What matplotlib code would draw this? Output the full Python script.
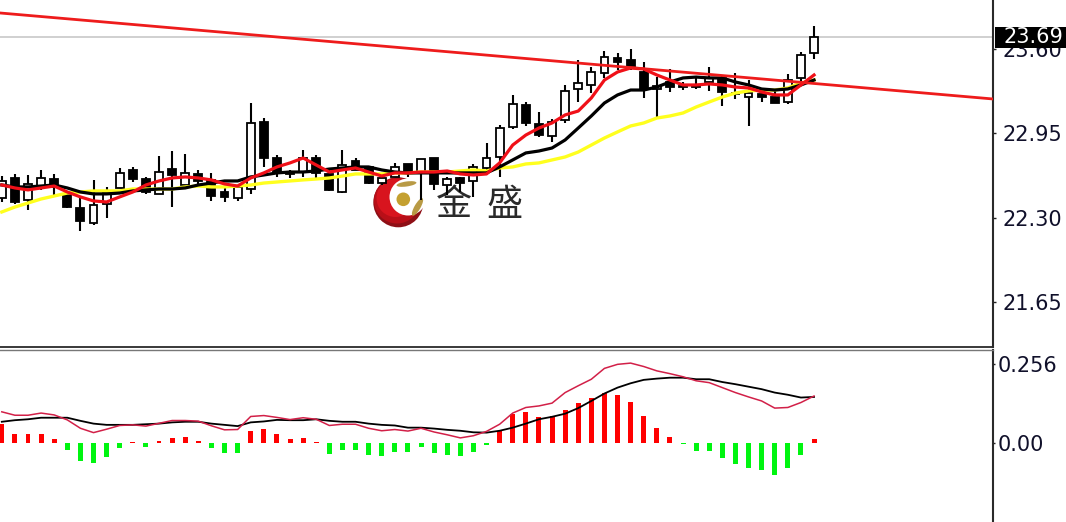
import numpy as np
import matplotlib
matplotlib.use("Agg")
import matplotlib.pyplot as plt
from matplotlib.patches import Circle, Ellipse, Rectangle

plt.rcParams['font.family'] = ['DejaVu Sans']

opens = [22.452, 22.606, 22.436, 22.537, 22.598, 22.475, 22.375, 22.259, 22.406, 22.529, 22.668, 22.598, 22.483,
         22.675, 22.552, 22.637, 22.591, 22.498, 22.452, 22.521, 23.038, 22.760, 22.652, 22.652, 22.760, 22.637,
         22.498, 22.737, 22.691, 22.567, 22.614, 22.714, 22.652, 22.760, 22.552, 22.606, 22.583, 22.683, 22.768,
         22.999, 23.169, 23.022, 22.930, 23.053, 23.292, 23.323, 23.415, 23.531, 23.516, 23.423, 23.292, 23.346,
         23.315, 23.307, 23.346, 23.377, 23.253, 23.230, 23.253, 23.230, 23.192, 23.377, 23.569]
closes = [22.583, 22.421, 22.560, 22.606, 22.537, 22.382, 22.274, 22.398, 22.498, 22.645, 22.598, 22.498, 22.652,
          22.629, 22.645, 22.583, 22.467, 22.460, 22.537, 23.030, 22.760, 22.652, 22.637, 22.760, 22.645, 22.514,
          22.706, 22.668, 22.567, 22.606, 22.691, 22.645, 22.752, 22.560, 22.598, 22.567, 22.691, 22.760, 22.991,
          23.176, 23.030, 22.937, 23.038, 23.277, 23.338, 23.423, 23.539, 23.500, 23.462, 23.292, 23.315, 23.307,
          23.307, 23.315, 23.377, 23.269, 23.261, 23.261, 23.230, 23.184, 23.361, 23.554, 23.693]
highs = [22.621, 22.637, 22.629, 22.668, 22.637, 22.498, 22.460, 22.591, 22.537, 22.683, 22.691, 22.614, 22.776,
         22.814, 22.791, 22.668, 22.645, 22.537, 22.537, 23.184, 23.068, 22.783, 22.668, 22.822, 22.783, 22.683,
         22.822, 22.760, 22.691, 22.645, 22.722, 22.714, 22.752, 22.760, 22.614, 22.614, 22.714, 22.876, 23.014,
         23.246, 23.192, 23.115, 23.061, 23.323, 23.516, 23.462, 23.585, 23.569, 23.600, 23.500, 23.384, 23.446,
         23.346, 23.377, 23.462, 23.400, 23.415, 23.361, 23.300, 23.284, 23.408, 23.577, 23.778]
lows = [22.421, 22.406, 22.359, 22.514, 22.475, 22.375, 22.197, 22.244, 22.298, 22.529, 22.575, 22.483, 22.483,
        22.382, 22.537, 22.537, 22.429, 22.421, 22.429, 22.483, 22.691, 22.614, 22.606, 22.614, 22.606, 22.506,
        22.490, 22.668, 22.560, 22.552, 22.614, 22.614, 22.436, 22.514, 22.475, 22.498, 22.460, 22.668, 22.614,
        22.984, 23.007, 22.922, 22.883, 23.030, 23.192, 23.261, 23.377, 23.438, 23.438, 23.223, 23.061, 23.269,
        23.284, 23.292, 23.277, 23.161, 23.215, 23.007, 23.192, 23.184, 23.176, 23.338, 23.523]

ma_red = [22.552, 22.529, 22.514, 22.529, 22.544, 22.498, 22.460, 22.429, 22.421, 22.460, 22.498, 22.552, 22.583,
          22.606, 22.614, 22.606, 22.591, 22.560, 22.544, 22.606, 22.645, 22.691, 22.722, 22.760, 22.706, 22.652,
          22.668, 22.683, 22.652, 22.621, 22.645, 22.645, 22.652, 22.652, 22.660, 22.637, 22.629, 22.637, 22.722,
          22.860, 22.937, 22.991, 23.030, 23.092, 23.122, 23.223, 23.361, 23.423, 23.454, 23.446, 23.400, 23.361,
          23.323, 23.323, 23.331, 23.323, 23.307, 23.300, 23.269, 23.246, 23.246, 23.323, 23.400]
ma_black = [22.552, 22.537, 22.537, 22.544, 22.552, 22.529, 22.498, 22.483, 22.483, 22.490, 22.506, 22.514, 22.521,
            22.521, 22.529, 22.552, 22.567, 22.583, 22.583, 22.614, 22.629, 22.645, 22.652, 22.652, 22.660, 22.675,
            22.683, 22.691, 22.691, 22.668, 22.652, 22.645, 22.645, 22.645, 22.645, 22.645, 22.645, 22.645, 22.691,
            22.745, 22.799, 22.814, 22.837, 22.899, 22.991, 23.084, 23.184, 23.246, 23.284, 23.284, 23.307, 23.346,
            23.377, 23.384, 23.377, 23.377, 23.346, 23.323, 23.292, 23.284, 23.292, 23.323, 23.361]
ma_yellow = [22.344, 22.382, 22.413, 22.444, 22.467, 22.490, 22.498, 22.506, 22.506, 22.506, 22.521, 22.521, 22.521,
             22.521, 22.537, 22.544, 22.537, 22.537, 22.544, 22.552, 22.567, 22.575, 22.583, 22.591, 22.598, 22.606,
             22.621, 22.637, 22.637, 22.637, 22.645, 22.645, 22.652, 22.652, 22.652, 22.660, 22.668, 22.660, 22.683,
             22.691, 22.714, 22.722, 22.745, 22.768, 22.806, 22.860, 22.914, 22.961, 23.007, 23.030, 23.068, 23.084,
             23.107, 23.153, 23.192, 23.230, 23.261, 23.277, 23.284, 23.284, 23.300, 23.338, 23.361]

trend_idx = [-0.14, 75.66]
trend_price = [23.878, 23.215]
last_price = 23.69
price_ticks = [23.60, 22.95, 22.30, 21.65]

macd_hist = [0.061, 0.029, 0.029, 0.029, 0.013, -0.021, -0.059, -0.063, -0.046, -0.017, 0.005, -0.012, 0.008,
             0.016, 0.020, 0.008, -0.017, -0.033, -0.033, 0.040, 0.045, 0.028, 0.013, 0.016, 0.005, -0.034,
             -0.021, -0.021, -0.037, -0.042, -0.030, -0.030, -0.012, -0.033, -0.037, -0.042, -0.029, -0.006, 0.040,
             0.093, 0.100, 0.083, 0.086, 0.107, 0.129, 0.145, 0.161, 0.155, 0.132, 0.087, 0.049, 0.020,
             -0.003, -0.025, -0.025, -0.047, -0.068, -0.079, -0.088, -0.101, -0.079, -0.038, 0.012]
macd_signal = [0.069, 0.074, 0.077, 0.082, 0.082, 0.082, 0.072, 0.063, 0.059, 0.059, 0.059, 0.061, 0.063,
               0.067, 0.069, 0.069, 0.063, 0.059, 0.055, 0.067, 0.070, 0.075, 0.074, 0.074, 0.077, 0.072,
               0.069, 0.069, 0.063, 0.059, 0.057, 0.050, 0.050, 0.047, 0.043, 0.040, 0.035, 0.034, 0.040,
               0.050, 0.063, 0.077, 0.085, 0.095, 0.113, 0.136, 0.160, 0.179, 0.193, 0.204, 0.208, 0.211,
               0.211, 0.206, 0.206, 0.197, 0.190, 0.182, 0.174, 0.163, 0.156, 0.147, 0.149]
macd_line = [0.101, 0.090, 0.090, 0.097, 0.091, 0.075, 0.048, 0.034, 0.045, 0.057, 0.059, 0.055, 0.064,
             0.073, 0.073, 0.071, 0.056, 0.043, 0.044, 0.086, 0.089, 0.083, 0.076, 0.082, 0.077, 0.057,
             0.061, 0.061, 0.048, 0.040, 0.044, 0.039, 0.048, 0.036, 0.027, 0.017, 0.024, 0.038, 0.061,
             0.097, 0.115, 0.120, 0.129, 0.163, 0.185, 0.206, 0.241, 0.254, 0.258, 0.247, 0.233, 0.224,
             0.214, 0.201, 0.195, 0.179, 0.163, 0.149, 0.136, 0.113, 0.115, 0.131, 0.152]
macd_ticks = [0.256, 0.00]

W, H = 1066.0, 522.0
fig = plt.figure(figsize=(10.66, 5.22), dpi=100, facecolor='white')

# logo sits below the candles, in pixel coordinates of the figure
logo = fig.add_axes([0, 0, 1, 1], zorder=0)
logo.set_xlim(0, W)
logo.set_ylim(H, 0)
logo.axis('off')
logo.add_patch(Circle((398.3, 202.3), 25, fc='#8e0f16', ec='none'))
logo.add_patch(Circle((397, 200.5), 23, fc='#b80f18', ec='none'))
logo.add_patch(Circle((395.5, 198), 19, fc='#d8141e', ec='none'))
logo.add_patch(Circle((408, 197), 18.5, fc='white', ec='none'))
logo.add_patch(Circle((403.3, 199.3), 6.8, fc='#c4a030', ec='none'))
logo.add_patch(Ellipse((406.5, 184), 20, 5, angle=-8, fc='#b89a45', ec='none'))
logo.add_patch(Ellipse((417.5, 207), 6, 20, angle=30, fc='#b89a45', ec='none'))
logo.text(454, 205, '金', family=['Noto Sans CJK SC', 'DejaVu Sans'], fontsize=26, color='#2a2a2a',
          ha='center', va='center')
logo.text(504, 205, '盛', family=['Noto Sans CJK SC', 'DejaVu Sans'], fontsize=26, color='#2a2a2a',
          ha='center', va='center')

ax = fig.add_axes([0, (H - 347) / H, 993 / W, 347 / H], zorder=1)
ax.patch.set_alpha(0)
macd_ax = fig.add_axes([0, 0, 993 / W, (H - 349.6) / H], zorder=1)
macd_ax.patch.set_alpha(0)

idx = np.arange(len(opens))
for a in (ax, macd_ax):
    a.set_xlim(-0.137, 75.66)
    a.set_xticks([])
    a.yaxis.tick_right()
    for side in ('left', 'top', 'bottom', 'right'):
        a.spines[side].set_linewidth(1.0)
        a.spines[side].set_color('#2a2a2a')
    a.spines['right'].set_linewidth(1.5)
    a.spines['left'].set_visible(False)
ax.tick_params(axis='y', length=2, width=1, labelsize=15, labelcolor='#10102a', color='#222222', pad=5)
macd_ax.tick_params(axis='y', length=1.5, width=1, labelsize=15, labelcolor='#10102a', color='#222222', pad=1.5)
ax.spines['top'].set_visible(False)
ax.spines['bottom'].set_linewidth(1.3)
macd_ax.spines['bottom'].set_visible(False)
macd_ax.spines['top'].set_color('#777777')

# price panel
ax.set_ylim(21.303, 23.978)
ax.set_yticks(price_ticks)
ax.set_yticklabels(['%.2f' % p for p in price_ticks])
ax.axhline(last_price, color='#c4c4c4', lw=1.1, zorder=1)

o = np.array(opens)
c = np.array(closes)
ax.vlines(idx, lows, highs, color='black', lw=1.5, zorder=2)
up = c >= o
ax.bar(idx[up], (c - o)[up], bottom=o[up], width=0.6, fc='white', ec='black', lw=1.3, zorder=3)
ax.bar(idx[~up], (c - o)[~up], bottom=o[~up], width=0.6, fc='black', ec='black', lw=1.3, zorder=3)

ax.plot(idx, ma_yellow, color='#ffff1e', lw=2.4, zorder=4)
ax.plot(idx, ma_black, color='black', lw=2.3, zorder=5)
ax.plot(idx, ma_red, color='#f01018', lw=2.3, zorder=6)
ax.plot(trend_idx, trend_price, color='#ee1c1c', lw=2.0, zorder=7)

# last price tag overlaps the 23.60 label
tag_y = ax.get_yaxis_transform()
ax.add_patch(Rectangle((1.002, last_price - 0.085), 0.075, 0.165, transform=tag_y, fc='black', ec='none',
                       clip_on=False, zorder=8))
ax.text(1.0105, last_price, '%.2f' % last_price, transform=tag_y, color='white', fontsize=15, ha='left',
        va='center', clip_on=False, zorder=9)

# macd panel
macd_ax.set_ylim(-0.254, 0.3015)
macd_ax.set_yticks(macd_ticks)
macd_ax.set_yticklabels(['%.3f' % macd_ticks[0], '%.2f' % macd_ticks[1]])
hist = np.array(macd_hist)
macd_ax.bar(idx[hist >= 0], hist[hist >= 0], width=0.38, color='#ff0000', zorder=2)
macd_ax.bar(idx[hist < 0], hist[hist < 0], width=0.38, color='#00f510', zorder=2)
macd_ax.plot(idx, macd_signal, color='black', lw=1.3, zorder=3)
macd_ax.plot(idx, macd_line, color='#d22048', lw=1.1, zorder=4)

fig.savefig('out.png', dpi=100)
